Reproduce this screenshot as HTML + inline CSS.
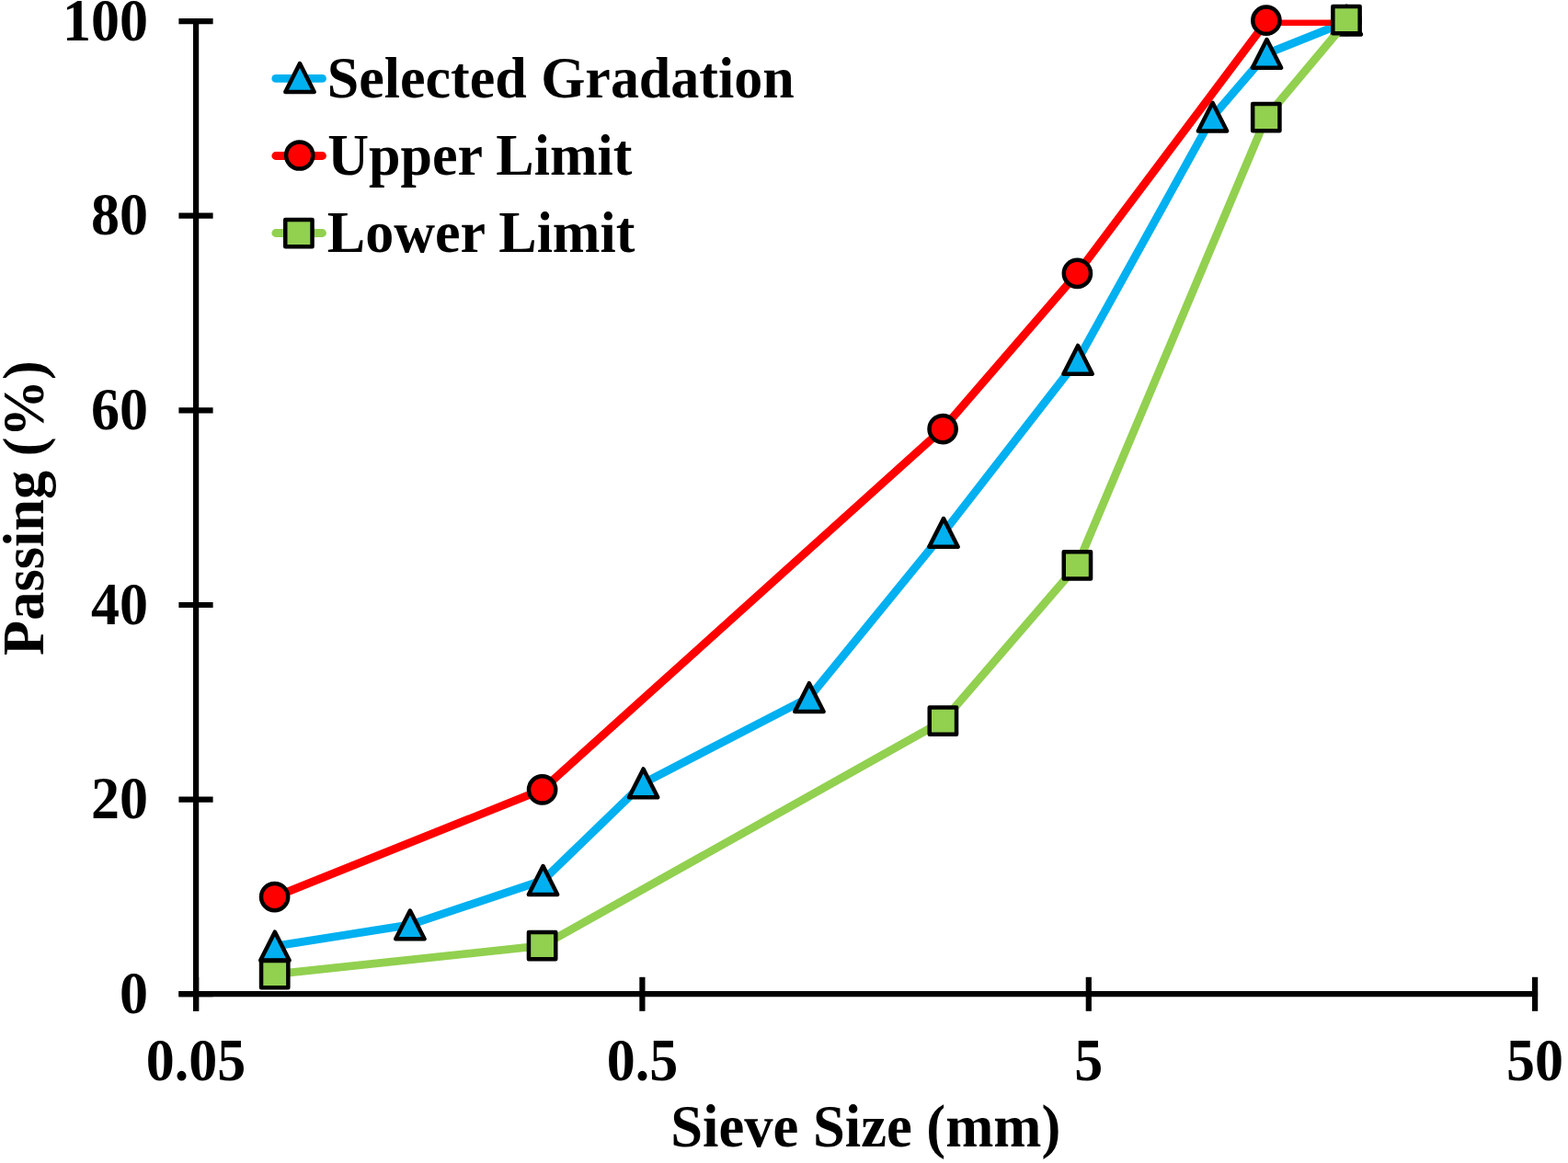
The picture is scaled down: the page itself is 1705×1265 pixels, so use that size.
<!DOCTYPE html><html><head><meta charset="utf-8"><title>Gradation chart</title><style>html,body{margin:0;padding:0;background:#fff;overflow:hidden;}svg{display:block;}text{font-family:"Liberation Serif","Times New Roman",serif;font-weight:bold;fill:#000;}</style></head><body>
<svg width="1705" height="1265" viewBox="0 0 1705 1265">
<defs><clipPath id="pa"><rect x="213" y="21.5" width="1460" height="1060"/></clipPath></defs>
<rect width="1705" height="1265" fill="#fff"/>
<g stroke="#000" stroke-width="6.2" fill="none">
<line x1="213.1" y1="20" x2="213.1" y2="1099.8"/>
<line x1="194.4" y1="1081.2" x2="1672.1" y2="1081.2"/>
<line x1="194.4" y1="1081.2" x2="231.6" y2="1081.2"/>
<line x1="194.4" y1="869.6" x2="231.6" y2="869.6"/>
<line x1="194.4" y1="658.0" x2="231.6" y2="658.0"/>
<line x1="194.4" y1="446.3" x2="231.6" y2="446.3"/>
<line x1="194.4" y1="234.7" x2="231.6" y2="234.7"/>
<line x1="194.4" y1="23.1" x2="231.6" y2="23.1"/>
<line x1="213.1" y1="1062.8" x2="213.1" y2="1099.8"/>
<line x1="698.4" y1="1062.8" x2="698.4" y2="1099.8"/>
<line x1="1183.8" y1="1062.8" x2="1183.8" y2="1099.8"/>
<line x1="1669.1" y1="1062.8" x2="1669.1" y2="1099.8"/>
</g>
<polyline clip-path="url(#pa)" points="298.9,1029.1 445.9,1005.9 590.5,957.5 699.6,851.8 879.9,758.6 1026.0,579.4 1172.1,391.3 1318.5,127.2 1377.5,58.4 1464.3,23.6" fill="none" stroke="#00B0F0" stroke-width="8.8" stroke-linejoin="round" stroke-linecap="round"/>
<path d="M298.90,1013.70 L314.55,1044.50 L283.25,1044.50 Z" fill="#00B0F0" stroke="#000" stroke-width="4.5" stroke-linejoin="round"/>
<path d="M445.90,990.50 L461.55,1021.30 L430.25,1021.30 Z" fill="#00B0F0" stroke="#000" stroke-width="4.5" stroke-linejoin="round"/>
<path d="M590.50,942.10 L606.15,972.90 L574.85,972.90 Z" fill="#00B0F0" stroke="#000" stroke-width="4.5" stroke-linejoin="round"/>
<path d="M699.60,836.40 L715.25,867.20 L683.95,867.20 Z" fill="#00B0F0" stroke="#000" stroke-width="4.5" stroke-linejoin="round"/>
<path d="M879.90,743.20 L895.55,774.00 L864.25,774.00 Z" fill="#00B0F0" stroke="#000" stroke-width="4.5" stroke-linejoin="round"/>
<path d="M1026.00,564.00 L1041.65,594.80 L1010.35,594.80 Z" fill="#00B0F0" stroke="#000" stroke-width="4.5" stroke-linejoin="round"/>
<path d="M1172.10,375.90 L1187.75,406.70 L1156.45,406.70 Z" fill="#00B0F0" stroke="#000" stroke-width="4.5" stroke-linejoin="round"/>
<path d="M1318.50,111.80 L1334.15,142.60 L1302.85,142.60 Z" fill="#00B0F0" stroke="#000" stroke-width="4.5" stroke-linejoin="round"/>
<path d="M1377.50,43.00 L1393.15,73.80 L1361.85,73.80 Z" fill="#00B0F0" stroke="#000" stroke-width="4.5" stroke-linejoin="round"/>
<path d="M1464.30,6.80 L1479.95,37.60 L1448.65,37.60 Z" fill="#00B0F0" stroke="#000" stroke-width="4.5" stroke-linejoin="round"/>
<polyline clip-path="url(#pa)" points="298.6,975.6 589.6,858.9 1025.1,466.6 1171.4,297.3 1376.9,23.6 1464.0,23.6" fill="none" stroke="#FF0000" stroke-width="8.8" stroke-linejoin="round" stroke-linecap="round"/>
<circle cx="298.60" cy="975.60" r="14.6" fill="#FF0000" stroke="#000" stroke-width="4.5"/>
<circle cx="589.60" cy="858.90" r="14.6" fill="#FF0000" stroke="#000" stroke-width="4.5"/>
<circle cx="1025.10" cy="466.60" r="14.6" fill="#FF0000" stroke="#000" stroke-width="4.5"/>
<circle cx="1171.40" cy="297.30" r="14.6" fill="#FF0000" stroke="#000" stroke-width="4.5"/>
<circle cx="1376.90" cy="22.20" r="14.6" fill="#FF0000" stroke="#000" stroke-width="4.5"/>
<circle cx="1464.00" cy="22.40" r="14.6" fill="#FF0000" stroke="#000" stroke-width="4.5"/>
<polyline clip-path="url(#pa)" points="298.7,1059.6 589.6,1028.7 1025.4,784.2 1171.4,614.8 1376.8,127.7 1464.0,23.6" fill="none" stroke="#92D050" stroke-width="8.8" stroke-linejoin="round" stroke-linecap="round"/>
<rect x="284.05" y="1044.95" width="29.3" height="29.3" fill="#92D050" stroke="#000" stroke-width="4.5" stroke-linejoin="round"/>
<rect x="574.95" y="1014.05" width="29.3" height="29.3" fill="#92D050" stroke="#000" stroke-width="4.5" stroke-linejoin="round"/>
<rect x="1010.75" y="769.55" width="29.3" height="29.3" fill="#92D050" stroke="#000" stroke-width="4.5" stroke-linejoin="round"/>
<rect x="1156.75" y="600.15" width="29.3" height="29.3" fill="#92D050" stroke="#000" stroke-width="4.5" stroke-linejoin="round"/>
<rect x="1362.15" y="113.05" width="29.3" height="29.3" fill="#92D050" stroke="#000" stroke-width="4.5" stroke-linejoin="round"/>
<rect x="1449.35" y="6.95" width="29.3" height="29.3" fill="#92D050" stroke="#000" stroke-width="4.5" stroke-linejoin="round"/>
<text transform="translate(161.0,1101.7) scale(1,1.06)" font-size="62" text-anchor="end">0</text>
<text transform="translate(161.0,890.1) scale(1,1.06)" font-size="62" text-anchor="end">20</text>
<text transform="translate(161.0,678.5) scale(1,1.06)" font-size="62" text-anchor="end">40</text>
<text transform="translate(161.0,466.8) scale(1,1.06)" font-size="62" text-anchor="end">60</text>
<text transform="translate(161.0,255.2) scale(1,1.06)" font-size="62" text-anchor="end">80</text>
<text transform="translate(161.0,43.6) scale(1,1.06)" font-size="62" text-anchor="end">100</text>
<text transform="translate(213.1,1175.0) scale(1,1.06)" font-size="62" text-anchor="middle">0.05</text>
<text transform="translate(698.4,1175.0) scale(1,1.06)" font-size="62" text-anchor="middle">0.5</text>
<text transform="translate(1183.8,1175.0) scale(1,1.06)" font-size="62" text-anchor="middle">5</text>
<text transform="translate(1669.1,1175.0) scale(1,1.06)" font-size="62" text-anchor="middle">50</text>
<text transform="translate(941.3,1247.4) scale(1,1.03)" font-size="62.6" text-anchor="middle">Sieve Size (mm)</text>
<text transform="translate(46.5,552.6) rotate(-90)" font-size="62.4" text-anchor="middle">Passing (%)</text>
<line x1="299.8" y1="85.4" x2="350.5" y2="85.4" stroke="#00B0F0" stroke-width="8.8" stroke-linecap="round"/>
<path d="M326.00,69.10 L341.65,99.90 L310.35,99.90 Z" fill="#00B0F0" stroke="#000" stroke-width="4.5" stroke-linejoin="round"/>
<text transform="translate(355.8,106.0) scale(1,1.03)" font-size="62">Selected Gradation</text>
<line x1="299.8" y1="169.5" x2="350.5" y2="169.5" stroke="#FF0000" stroke-width="8.8" stroke-linecap="round"/>
<circle cx="325.70" cy="169.00" r="14.6" fill="#FF0000" stroke="#000" stroke-width="4.5"/>
<text transform="translate(356.2,189.8) scale(1,1.03)" font-size="62">Upper Limit</text>
<line x1="299.8" y1="253.5" x2="350.5" y2="253.5" stroke="#92D050" stroke-width="8.8" stroke-linecap="round"/>
<rect x="310.25" y="239.05" width="29.3" height="29.3" fill="#92D050" stroke="#000" stroke-width="4.5" stroke-linejoin="round"/>
<text transform="translate(355.8,274.0) scale(1,1.03)" font-size="62">Lower Limit</text>
</svg></body></html>
